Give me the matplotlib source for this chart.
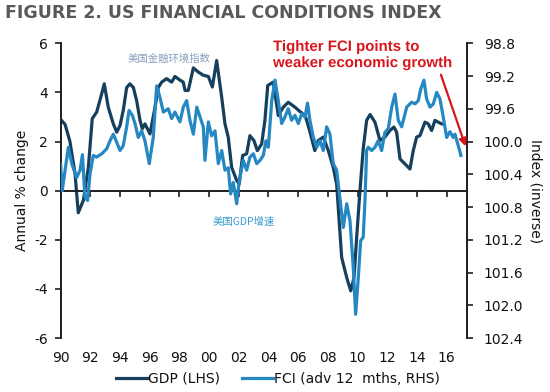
import matplotlib
matplotlib.use('Agg')
import matplotlib.pyplot as plt
import matplotlib.patheffects as pe

# ---------------- data ----------------
gdp_years = [1990.0, 1990.3, 1990.63, 1990.97, 1991.19, 1991.53, 1991.87, 1992.13, 1992.43,
             1992.77, 1992.94, 1993.21, 1993.55, 1993.78, 1994.0, 1994.22, 1994.45, 1994.67,
             1994.9, 1995.12, 1995.35, 1995.5, 1995.68, 1996.02, 1996.36, 1996.58, 1996.81,
             1997.14, 1997.48, 1997.7, 1998.04, 1998.26, 1998.38, 1998.6, 1998.94, 1999.27,
             1999.61, 1999.95, 2000.22, 2000.51, 2000.85, 2001.07, 2001.29, 2001.52, 2001.86,
             2002.03, 2002.26, 2002.53, 2002.75, 2003.02, 2003.25, 2003.54, 2003.76, 2003.95,
             2004.32, 2004.66, 2005.0, 2005.33, 2005.78, 2006.12, 2006.46, 2006.57, 2006.79,
             2007.12, 2007.35, 2007.69, 2008.03, 2008.36, 2008.59, 2008.93, 2009.27, 2009.54,
             2009.76, 2009.94, 2010.16, 2010.38, 2010.61, 2010.84, 2011.17, 2011.51, 2011.84,
             2012.18, 2012.45, 2012.63, 2012.86, 2013.19, 2013.53, 2013.75, 2013.98, 2014.2,
             2014.54, 2014.76, 2014.99, 2015.21, 2015.43, 2015.66]
gdp_values = [2.9, 2.7, 2.0, 0.7, -0.9, -0.4, 0.95, 2.93, 3.2,
              3.95, 4.35, 3.4, 2.72, 2.38, 2.65, 3.27, 4.2, 4.35,
              4.2, 3.67, 2.86, 2.52, 2.72, 2.31, 3.4, 4.2, 4.42,
              4.56, 4.42, 4.65, 4.5, 4.42, 4.08, 4.08, 5.0, 4.83,
              4.7, 4.65, 4.22, 5.3, 3.8, 2.72, 2.18, 0.95, 0.41,
              0.27, 1.43, 1.5, 2.24, 2.04, 1.63, 1.9, 2.86, 4.28,
              4.42, 3.06, 3.4, 3.6, 3.4, 3.22, 3.06, 2.86, 2.4,
              1.63, 2.04, 2.18, 1.63, 0.95, 0.27, -2.72, -3.54, -4.08,
              -3.54, -1.9, 0.0, 1.7, 2.86, 3.1, 2.79, 2.04, 2.18,
              2.45, 2.59, 2.38, 1.29, 1.09, 0.88, 1.63, 2.18, 2.24,
              2.79, 2.72, 2.45, 2.86, 2.79, 2.72]

fci_years = [1990.0, 1990.11, 1990.52, 1990.75, 1991.08, 1991.31, 1991.47, 1991.64, 1991.82,
             1991.98, 1992.2, 1992.43, 1992.77, 1993.1, 1993.33, 1993.55, 1993.78, 1994.0,
             1994.22, 1994.45, 1994.61, 1994.83, 1995.01, 1995.23, 1995.46, 1995.68, 1995.97,
             1996.24, 1996.47, 1996.69, 1996.92, 1997.25, 1997.48, 1997.7, 1998.04, 1998.26,
             1998.49, 1998.71, 1998.94, 1999.17, 1999.39, 1999.61, 1999.72, 1999.95, 2000.17,
             2000.4, 2000.62, 2000.85, 2001.07, 2001.29, 2001.45, 2001.63, 2001.86, 2002.03,
             2002.3, 2002.53, 2002.75, 2002.98, 2003.21, 2003.43, 2003.65, 2003.83, 2003.99,
             2004.22, 2004.44, 2004.66, 2004.89, 2005.11, 2005.33, 2005.56, 2005.78, 2006.01,
             2006.24, 2006.46, 2006.63, 2006.79, 2007.02, 2007.25, 2007.47, 2007.69, 2007.92,
             2008.14, 2008.36, 2008.59, 2008.7, 2009.04, 2009.27, 2009.49, 2009.71, 2009.87,
             2010.05, 2010.21, 2010.38, 2010.5, 2010.61, 2010.72, 2010.95, 2011.17, 2011.39,
             2011.62, 2011.84, 2012.07, 2012.3, 2012.52, 2012.74, 2012.97, 2013.31, 2013.64,
             2013.87, 2014.09, 2014.25, 2014.47, 2014.65, 2014.88, 2015.1, 2015.33, 2015.55,
             2015.77, 2016.0, 2016.22, 2016.44, 2016.56, 2016.78, 2016.96]
fci_values = [100.27, 100.60, 100.07, 100.27, 100.44, 100.35, 100.16, 100.68, 100.72,
              100.40, 100.17, 100.19, 100.15, 100.09, 99.99, 99.91, 100.01, 100.11,
              100.05, 99.82, 99.62, 99.68, 99.78, 99.95, 99.87, 99.99, 100.27,
              99.95, 99.32, 99.46, 99.64, 99.60, 99.72, 99.64, 99.76, 99.58,
              99.50, 99.74, 99.91, 99.58, 99.70, 99.82, 100.23, 99.76, 99.93,
              99.87, 100.27, 100.11, 100.35, 100.32, 100.64, 100.50, 100.76, 100.48,
              100.23, 100.35, 100.19, 100.15, 100.27, 100.23, 100.17, 99.99, 100.07,
              99.50, 99.25, 99.50, 99.78, 99.70, 99.60, 99.74, 99.68, 99.78,
              99.66, 99.70, 99.53, 99.74, 99.95, 100.07, 99.99, 100.11, 99.82,
              99.91, 100.27, 100.35, 100.52, 101.05, 100.76, 100.97, 101.54, 102.11,
              101.66, 101.21, 101.17, 100.72, 100.11, 100.07, 100.11, 100.07, 99.99,
              100.11, 99.89, 99.84, 99.58, 99.42, 99.74, 99.82, 99.58, 99.52,
              99.54, 99.50, 99.36, 99.25, 99.48, 99.58, 99.54, 99.40, 99.48,
              99.70, 99.95, 99.88, 99.95, 99.91, 100.05, 100.17]

x_tick_years = [1990, 1992, 1994, 1996, 1998, 2000, 2002, 2004, 2006, 2008, 2010, 2012, 2014, 2016]
x_tick_labels = ['90', '92', '94', '96', '98', '00', '02', '04', '06', '08', '10', '12', '14', '16']
left_ticks = [-6, -4, -2, 0, 2, 4, 6]
right_ticks = [98.8, 99.2, 99.6, 100.0, 100.4, 100.8, 101.2, 101.6, 102.0, 102.4]
right_tick_labels = ['98.8', '99.2', '99.6', '100.0', '100.4', '100.8', '101.2', '101.6', '102.0', '102.4']

title = 'FIGURE 2. US FINANCIAL CONDITIONS INDEX'
gdp_label = 'GDP (LHS)'
fci_label = 'FCI (adv 12  mths, RHS)'
note_text = 'Tighter FCI points to\nweaker economic growth'
cn_top = '美国金融环境指数'
cn_bottom = '美国GDP增速'

# ---------------- style ----------------
GDP_C = '#163f5e'
FCI_C = '#2588c2'
AX_C = '#1e1e1e'
RED = '#d8161d'

plt.rcParams['axes.unicode_minus'] = False
plt.rcParams['font.family'] = ['DejaVu Sans']

W, H = 550, 392
fig = plt.figure(figsize=(W / 100, H / 100), dpi=100)
ax = fig.add_axes([60.6 / W, 1 - 338 / H, (467 - 60.6) / W, (338 - 43.3) / H])
ax2 = ax.twinx()

l1, = ax.plot(gdp_years, gdp_values, color=GDP_C, lw=2.3, solid_joinstyle='round', label=gdp_label)
l2, = ax2.plot(fci_years, fci_values, color=FCI_C, lw=2.3, solid_joinstyle='round', label=fci_label)

ax.set_xlim(1990, 2017.37)
ax.set_ylim(-6, 6)
ax2.set_ylim(102.4, 98.8)

# spines
for s in ['top', 'right']:
    ax.spines[s].set_visible(False)
for s in ['top', 'bottom', 'left']:
    ax2.spines[s].set_visible(False)
ax.spines['bottom'].set_position(('data', 0))
for sp in [ax.spines['left'], ax.spines['bottom'], ax2.spines['right']]:
    sp.set_color(AX_C)
    sp.set_linewidth(1.4)

ax.set_yticks(left_ticks)
ax.tick_params(axis='y', direction='out', length=4, width=1.2, color=AX_C,
               labelsize=10, pad=5, labelcolor='#111111')
ax2.set_yticks(right_ticks)
ax2.set_yticklabels(right_tick_labels)
ax2.tick_params(axis='y', direction='out', length=4, width=1.2, color=AX_C,
                labelsize=10, pad=8, labelcolor='#111111')
ax2.tick_params(axis='x', which='both', bottom=False, top=False, labelbottom=False)

ax.set_xticks(x_tick_years)
ax.tick_params(axis='x', direction='out', length=4, width=1.2, color=AX_C, labelbottom=False)

sec = ax.secondary_xaxis('bottom')
sec.set_xticks(x_tick_years)
sec.set_xticklabels(x_tick_labels)
sec.tick_params(axis='x', length=0, pad=9, labelsize=10, labelcolor='#111111')
sec.spines['bottom'].set_visible(False)

ax.set_ylabel('Annual % change', fontsize=10, color='#111111', labelpad=4)
ax2.set_ylabel('Index (inverse)', fontsize=10, color='#111111', rotation=270, labelpad=14)

# title
fig.text(5 / W, 1 - 13.5 / H, title, fontsize=12.5, fontweight='bold', color='#595959',
         ha='left', va='center')

# legend
fig.legend(handles=[l1, l2], loc='center', bbox_to_anchor=(278 / W, 1 - 379 / H),
           ncol=2, frameon=False, fontsize=10, handlelength=2.2, handletextpad=0.1,
           columnspacing=1.6, borderaxespad=0, labelcolor='#111111')

# Chinese labels
fig.text(128 / W, 1 - 59 / H, cn_top, fontsize=7.5, color='#8aa0bc',
         family=['Noto Sans CJK SC', 'DejaVu Sans'], ha='left', va='center')
fig.text(213 / W, 1 - 222 / H, cn_bottom, fontsize=7.5, color='#3a9ed0',
         family=['Noto Sans CJK SC', 'DejaVu Sans'], ha='left', va='center')

# red annotation
fig.text(273 / W, 1 - 55 / H, note_text, fontsize=10.8, fontweight='bold', color=RED,
         family=['Liberation Sans', 'DejaVu Sans'], ha='left', va='center', linespacing=1.2,
         path_effects=[pe.withStroke(linewidth=3, foreground='white')], zorder=10)
fig.add_artist(matplotlib.patches.FancyArrowPatch(
    (440 / W, 1 - 72 / H), (466.5 / W, 1 - 149 / H), transform=fig.transFigure,
    arrowstyle='-|>', mutation_scale=11, color=RED, lw=1.6, zorder=11))

fig.savefig('out.png', dpi=100)
